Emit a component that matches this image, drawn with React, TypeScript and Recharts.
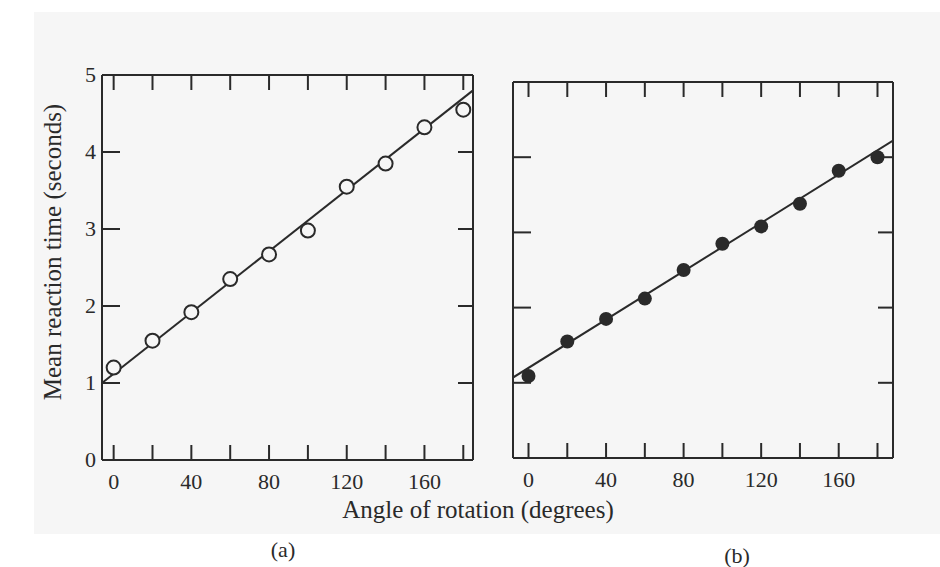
import { ComposedChart, Scatter, XAxis, YAxis } from 'recharts'

// angles of rotation (degrees)
const angles = [0, 20, 40, 60, 80, 100, 120, 140, 160, 180]
// mean reaction time (seconds), panel (a) and (b)
const rtA = [1.2, 1.55, 1.92, 2.35, 2.67, 2.98, 3.55, 3.85, 4.32, 4.55]
const rtB = [1.09, 1.55, 1.85, 2.12, 2.5, 2.85, 3.08, 3.38, 3.82, 4.0]
// fitted straight lines: end points [angle, seconds]
const fitA = [[-6, 1.0], [185, 4.8]]
const fitB = [[-8, 1.07], [188, 4.22]]

const xTicks = [0, 20, 40, 60, 80, 100, 120, 140, 160, 180]
const xLabels = [0, 40, 80, 120, 160]
const yTicks = [0, 1, 2, 3, 4, 5]

const ink = '#2a2a2a'
const serif = '"Liberation Serif", "DejaVu Serif", serif'

const pointsA = angles.map((a, i) => ({ x: a, y: rtA[i] }))
const pointsB = angles.map((a, i) => ({ x: a, y: rtB[i] }))
const lineA = fitA.map(([x, y]) => ({ x, y }))
const lineB = fitB.map(([x, y]) => ({ x, y }))

// inward ticks: Recharts hands us the point on the frame line
const BottomTick = (props: any) => {
  const { x, y, payload } = props
  return (
    <g>
      <line x1={x} y1={y} x2={x} y2={y - 15} stroke={ink} strokeWidth={2} />
      {xLabels.includes(payload.value) && (
        <text x={x} y={y + 29} textAnchor="middle" fontSize={22} fill={ink} fontFamily={serif}>
          {payload.value}
        </text>
      )}
    </g>
  )
}

const TopTick = (props: any) => {
  const { x, y } = props
  return <line x1={x} y1={y} x2={x} y2={y + 15} stroke={ink} strokeWidth={2} />
}

const LeftTick = (props: any) => {
  const { x, y, payload, showLabel } = props
  const inner = payload.value === 0 || payload.value === 5
  return (
    <g>
      {!inner && <line x1={x} y1={y} x2={x + 18} y2={y} stroke={ink} strokeWidth={2} />}
      {showLabel && (
        <text x={x - 6} y={y + 7} textAnchor="end" fontSize={22} fill={ink} fontFamily={serif}>
          {payload.value}
        </text>
      )}
    </g>
  )
}

const RightTick = (props: any) => {
  const { x, y, payload } = props
  if (payload.value === 0 || payload.value === 5) return <g />
  return <line x1={x} y1={y} x2={x - 15} y2={y} stroke={ink} strokeWidth={2} />
}

const OpenDot = (props: any) => (
  <circle cx={props.cx} cy={props.cy} r={7} fill="#f6f6f6" stroke={ink} strokeWidth={2} />
)
const FilledDot = (props: any) => <circle cx={props.cx} cy={props.cy} r={7} fill={ink} />
const NoDot = () => <g />

function Panel({ points, line, domain, width, height, margin, yWidth, showLabels, filled }: any) {
  const axisLine = { stroke: ink, strokeWidth: 2 }
  return (
    <ComposedChart width={width} height={height} margin={margin}>
      <XAxis xAxisId="b" type="number" dataKey="x" domain={domain} ticks={xTicks} allowDataOverflow
        height={40} axisLine={axisLine} tickLine={false} tickSize={0} tickMargin={0} tick={<BottomTick />} interval={0} />
      <XAxis xAxisId="t" orientation="top" type="number" dataKey="x" domain={domain} ticks={xTicks} allowDataOverflow
        height={1} axisLine={axisLine} tickLine={false} tickSize={0} tickMargin={0} tick={<TopTick />} interval={0} />
      <YAxis yAxisId="l" type="number" dataKey="y" domain={[0, 5]} ticks={yTicks} allowDataOverflow
        width={yWidth} axisLine={axisLine} tickLine={false} tickSize={0} tickMargin={0}
        tick={<LeftTick showLabel={showLabels} />} interval={0} />
      <YAxis yAxisId="r" orientation="right" type="number" dataKey="y" domain={[0, 5]} ticks={yTicks} allowDataOverflow
        width={1} axisLine={axisLine} tickLine={false} tickSize={0} tickMargin={0} tick={<RightTick />} interval={0} />
      <Scatter xAxisId="b" yAxisId="l" data={line} dataKey="y" line={{ stroke: ink, strokeWidth: 2 }}
        shape={NoDot} isAnimationActive={false} />
      <Scatter xAxisId="t" yAxisId="r" data={line} dataKey="y" shape={NoDot} isAnimationActive={false} />
      <Scatter xAxisId="b" yAxisId="l" data={points} dataKey="y"
        shape={filled ? FilledDot : OpenDot} isAnimationActive={false} />
    </ComposedChart>
  )
}

export default function App() {
  return (
    <div style={{ position: 'absolute', left: 0, top: 0, width: 940, height: 567, background: '#ffffff', overflow: 'hidden' }}>
      <div style={{ position: 'absolute', left: 34, top: 12, width: 906, height: 522, background: '#f6f6f6' }} />
      <div style={{ position: 'absolute', left: 0, top: 0 }}>
        <Panel points={pointsA} line={lineA} domain={[-6, 185]} width={500} height={500}
          margin={{ top: 74, right: 26, bottom: 0, left: 42 }} yWidth={60} showLabels filled={false} />
      </div>
      <div style={{ position: 'absolute', left: 470, top: 0 }}>
        <Panel points={pointsB} line={lineB} domain={[-8, 188]} width={450} height={500}
          margin={{ top: 81, right: 26, bottom: 2, left: 42 }} yWidth={1} showLabels={false} filled />
      </div>
      <div style={{
        position: 'absolute', left: 53, top: 252, transform: 'translate(-50%, -50%) rotate(-90deg)',
        whiteSpace: 'nowrap', fontFamily: serif, fontSize: 25, color: ink,
      }}>
        Mean reaction time (seconds)
      </div>
      <div style={{
        position: 'absolute', left: 478, top: 510, transform: 'translate(-50%, -50%)',
        whiteSpace: 'nowrap', fontFamily: serif, fontSize: 25, color: ink,
      }}>
        Angle of rotation (degrees)
      </div>
      <div style={{ position: 'absolute', left: 283, top: 550, transform: 'translate(-50%, -50%)', fontFamily: serif, fontSize: 22, color: ink }}>
        (a)
      </div>
      <div style={{ position: 'absolute', left: 737, top: 556, transform: 'translate(-50%, -50%)', fontFamily: serif, fontSize: 22, color: ink }}>
        (b)
      </div>
    </div>
  )
}
